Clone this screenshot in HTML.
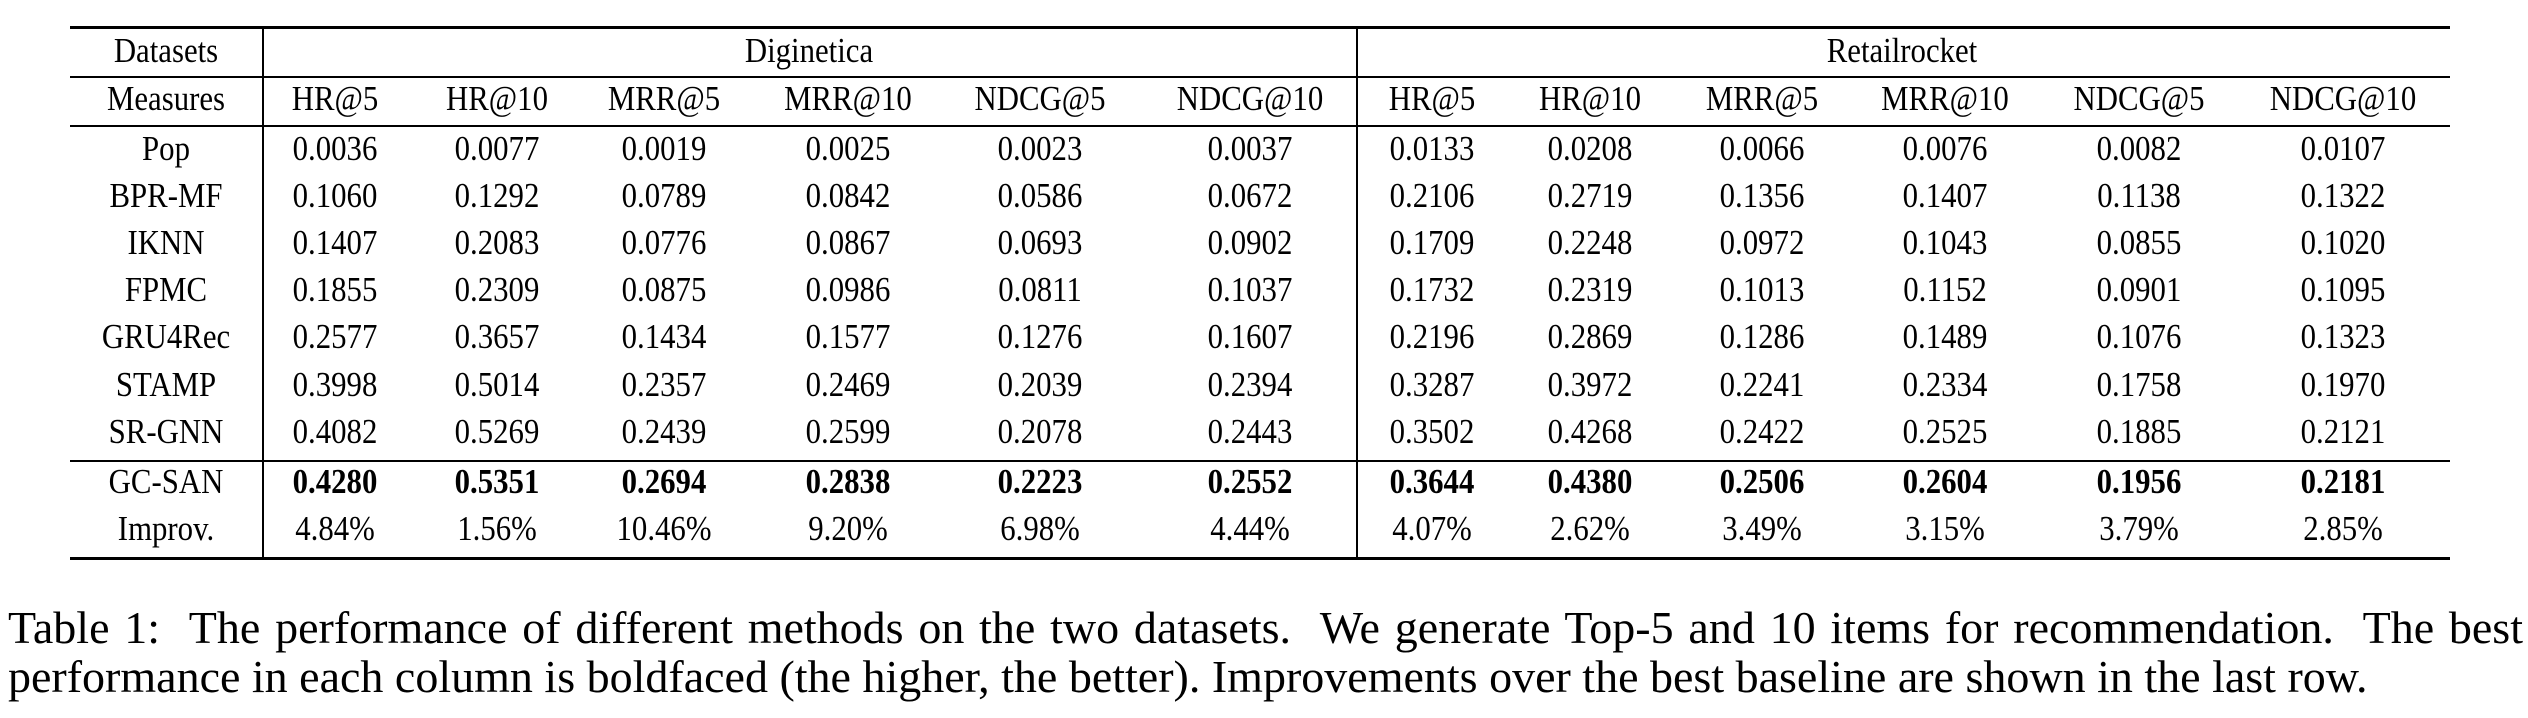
<!DOCTYPE html>
<html><head><meta charset="utf-8"><style>
body{margin:0;width:2528px;height:718px;background:#fff;position:relative;overflow:hidden;font-family:"Liberation Serif",serif;color:#000}
.c{position:absolute;width:300px;text-align:center;font-size:35px;line-height:40px;white-space:nowrap;transform:scaleX(0.88)}
.h{position:absolute;background:#000;left:70px;width:2380px}
.v{position:absolute;background:#000;width:2px}
b{font-weight:bold}
.cap{position:absolute;left:8px;font-size:46px;line-height:49px;white-space:nowrap}
</style></head><body>
<div class="h" style="top:26px;height:3px"></div>
<div class="h" style="top:76px;height:2px"></div>
<div class="h" style="top:125px;height:2px"></div>
<div class="h" style="top:460px;height:2px"></div>
<div class="h" style="top:557px;height:3px"></div>
<div class="v" style="left:262px;top:27px;height:531px"></div>
<div class="v" style="left:1356px;top:27px;height:531px"></div>
<div id="t"></div>
<div class="cap" style="top:603px;width:2515px;text-align:justify;text-align-last:justify">Table 1:&nbsp; The performance of different methods on the two datasets.&nbsp; We generate Top-5 and 10 items for recommendation.&nbsp; The best</div>
<div class="cap" style="top:652px">performance in each column is boldfaced (the higher, the better). Improvements over the best baseline are shown in the last row.</div>
<script>
var X=[166,335,497,664,848,1040,1250,1432,1590,1762,1945,2139,2343];
var Y=[150,197,244,291,338,386,433,483,530];
var rows=[
["Pop","0.0036","0.0077","0.0019","0.0025","0.0023","0.0037","0.0133","0.0208","0.0066","0.0076","0.0082","0.0107"],
["BPR-MF","0.1060","0.1292","0.0789","0.0842","0.0586","0.0672","0.2106","0.2719","0.1356","0.1407","0.1138","0.1322"],
["IKNN","0.1407","0.2083","0.0776","0.0867","0.0693","0.0902","0.1709","0.2248","0.0972","0.1043","0.0855","0.1020"],
["FPMC","0.1855","0.2309","0.0875","0.0986","0.0811","0.1037","0.1732","0.2319","0.1013","0.1152","0.0901","0.1095"],
["GRU4Rec","0.2577","0.3657","0.1434","0.1577","0.1276","0.1607","0.2196","0.2869","0.1286","0.1489","0.1076","0.1323"],
["STAMP","0.3998","0.5014","0.2357","0.2469","0.2039","0.2394","0.3287","0.3972","0.2241","0.2334","0.1758","0.1970"],
["SR-GNN","0.4082","0.5269","0.2439","0.2599","0.2078","0.2443","0.3502","0.4268","0.2422","0.2525","0.1885","0.2121"],
["GC-SAN","<b>0.4280</b>","<b>0.5351</b>","<b>0.2694</b>","<b>0.2838</b>","<b>0.2223</b>","<b>0.2552</b>","<b>0.3644</b>","<b>0.4380</b>","<b>0.2506</b>","<b>0.2604</b>","<b>0.1956</b>","<b>0.2181</b>"],
["Improv.","4.84%","1.56%","10.46%","9.20%","6.98%","4.44%","4.07%","2.62%","3.49%","3.15%","3.79%","2.85%"]];
var h="";
function cell(x,y,t){h+='<div class="c" style="left:'+(x-150)+'px;top:'+(y-21)+'px">'+t+'</div>';}
cell(166,52,"Datasets");cell(809,52,"Diginetica");cell(1902,52,"Retailrocket");
var m=["Measures","HR@5","HR@10","MRR@5","MRR@10","NDCG@5","NDCG@10","HR@5","HR@10","MRR@5","MRR@10","NDCG@5","NDCG@10"];
for(var i=0;i<13;i++)cell(X[i],100,m[i]);
for(var r=0;r<rows.length;r++)for(var i=0;i<13;i++)cell(X[i],Y[r],rows[r][i]);
document.getElementById("t").innerHTML=h;
</script>
</body></html>
